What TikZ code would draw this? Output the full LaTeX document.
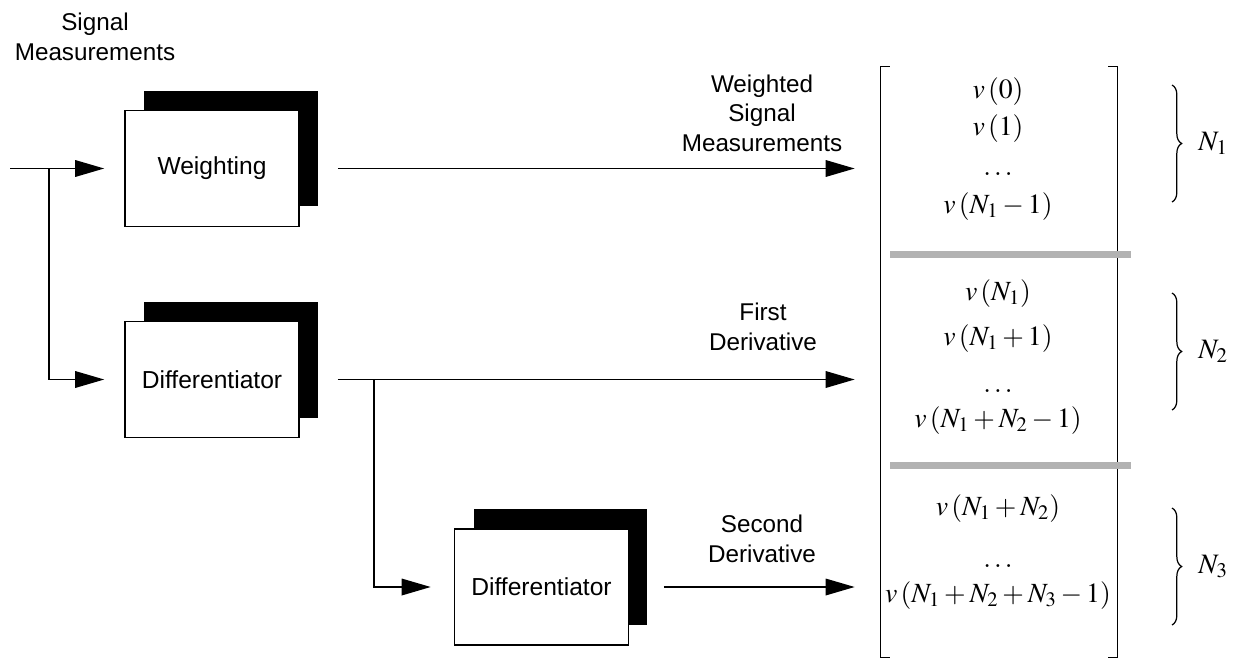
\documentclass[tikz,border=0pt]{standalone}
\usepackage{mathptmx}
\usepackage[no-math]{fontspec}
\setmainfont{Liberation Sans}
\usetikzlibrary{arrows.meta, positioning, shadows, decorations.pathreplacing}

\tikzset{
  block/.style={draw, line width=0.9pt, fill=white, minimum width=3.48cm, minimum height=2.32cm,
    font=\fontsize{14}{17}\selectfont,
    general shadow={fill=black, shadow xshift=0.38cm, shadow yshift=0.4cm}},
  sig/.style={line width=1pt, -{Triangle[length=0.58cm, width=0.33cm]}},
  wire/.style={line width=1pt},
  lbl/.style={align=center, font=\fontsize{13.8}{16.8}\selectfont},
  entry/.style={anchor=base, inner sep=0pt, font=\fontsize{15.8}{18}\selectfont},
  bracket/.style={line width=0.8pt},
  sep/.style={gray!60, line width=0.14cm},
  count/.style={decorate, decoration={brace, amplitude=5.5pt}, line width=0.7pt}
}

\begin{document}
\begin{tikzpicture}[x=0.02cm, y=-0.02cm]
\useasboundingbox (0,0) rectangle (1236,659);

\node[block] at (212,168.5) (W) {Weighting};
\node[block] at (212,379.5) (D1) {Differentiator};
\node[block] at (541.5,587) (D2) {Differentiator};

\coordinate (in) at (10,168.5);
\coordinate (split) at (49,168.5);
\coordinate (fork) at (374,379.5);

\node[minimum width=4.72cm, minimum height=11.8cm, inner sep=0pt] at (999,362) (vec) {};
\draw[bracket] ([xshift=0.18cm]vec.north west) -- (vec.north west) -- (vec.south west) -- ([xshift=0.18cm]vec.south west);
\draw[bracket] ([xshift=-0.18cm]vec.north east) -- (vec.north east) -- (vec.south east) -- ([xshift=-0.18cm]vec.south east);
\draw[sep] (890,254) -- (1131,254);
\draw[sep] (890,465) -- (1131,465);

\node[lbl] at (95,37) (sm) {Signal\\Measurements};
\node[lbl] at (762,113) (wsm) {Weighted\\Signal\\Measurements};
\node[lbl] at (763,327) (fd) {First\\Derivative};
\node[lbl] at (762,539) (sd) {Second\\Derivative};

\node[entry] at (998,98) (e1) {$v\,(0)$};
\node[entry] at (998,135) (e2) {$v\,(1)$};
\node[entry] at (998,175) (e3) {$\ldots$};
\node[entry] at (998,213) (e4) {$v\,(N_1-1)$};
\node[entry] at (998,300) (e5) {$v\,(N_1)$};
\node[entry] at (998,345) (e6) {$v\,(N_1+1)$};
\node[entry] at (998,392) (e7) {$\ldots$};
\node[entry] at (998,427) (e8) {$v\,(N_1+N_2-1)$};
\node[entry] at (998,515) (e9) {$v\,(N_1+N_2)$};
\node[entry] at (998,567) (e10) {$\ldots$};
\node[entry] at (998,602) (e11) {$v\,(N_1+N_2+N_3-1)$};

\draw[count] (1172,85) -- (1172,202) node[midway, right=4mm] (n1) {\fontsize{16}{18}\selectfont$N_1$};
\draw[count] (1172,293) -- (1172,410) node[midway, right=4mm] (n2) {\fontsize{16}{18}\selectfont$N_2$};
\draw[count] (1172,508) -- (1172,625) node[midway, right=4mm] (n3) {\fontsize{16}{18}\selectfont$N_3$};

\draw[wire] (in) -- (split);
\draw[sig, shorten >=0.4cm] (split) -- (W.west);
\draw[sig, shorten >=0.4cm] (split) |- (D1.west);
\draw[sig, shorten <=0.76cm, shorten >=0.52cm] (W.east) -- (vec.west |- W.east);
\draw[sig, shorten <=0.76cm, shorten >=0.52cm] (D1.east) -- (vec.west |- D1.east);
\draw[wire, shorten <=0.76cm] (D1.east) -- (fork);
\draw[sig, shorten >=0.46cm] (fork) |- (D2.west);
\draw[sig, shorten <=0.69cm, shorten >=0.52cm] (D2.east) -- (vec.west |- D2.east);
\end{tikzpicture}
\end{document}
